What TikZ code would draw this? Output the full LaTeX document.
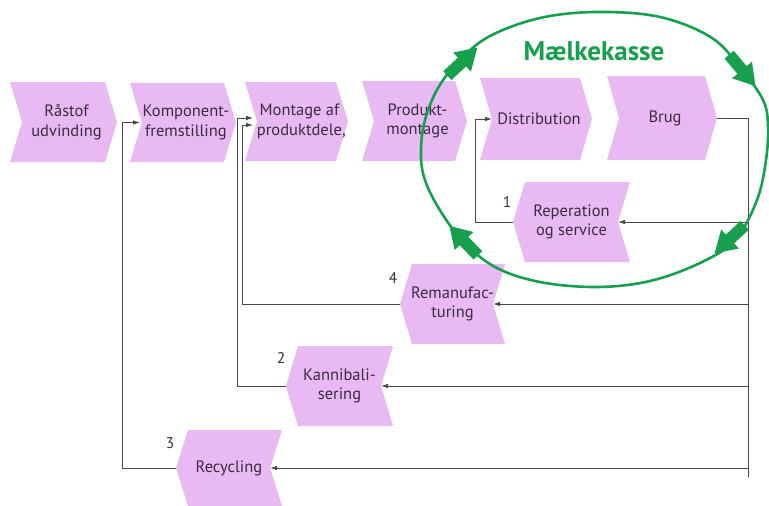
\documentclass[tikz,border=0pt]{standalone}
\usepackage{fontspec}
\setmainfont{PT Sans}
\usetikzlibrary{arrows.meta}
\definecolor{chevfill}{RGB}{233,185,244}
\definecolor{txt}{RGB}{58,44,64}
\definecolor{lin}{RGB}{72,72,72}
\definecolor{grn}{RGB}{22,160,78}
\tikzset{
  lbl/.style={font=\fontsize{16.5}{19.5}\selectfont, text=txt, align=center, inner sep=0pt},
  num/.style={font=\fontsize{15.5}{17}\selectfont, text=txt, inner sep=0pt},
  conn/.style={draw=lin, line width=0.8pt},
  arr/.style={-{Latex[length=7pt,width=4.5pt]}},
  ring/.style={draw=grn, line width=2.6pt},
}
% right-pointing chevron: name, xl, xr, yt, yb, text
\newcommand\rchev[6]{%
  \fill[chevfill] (#2,-#4) -- ({#3-12},-#4) -- (#3,{-(#4+#5)/2}) -- ({#3-12},-#5) -- (#2,-#5) -- ({#2+12},{-(#4+#5)/2}) -- cycle;
  \node[lbl] (#1) at ({(#2+#3)/2+3},{-(#4+#5)/2}) {#6};
  \coordinate (#1-in) at ({#2+12},{-(#4+#5)/2});
  \coordinate (#1-out) at (#3,{-(#4+#5)/2});
}
% left-pointing chevron: name, xl, xr, yt, yb, text
\newcommand\lchev[6]{%
  \fill[chevfill] ({#2+12},-#4) -- (#3,-#4) -- ({#3-12},{-(#4+#5)/2}) -- (#3,-#5) -- ({#2+12},-#5) -- (#2,{-(#4+#5)/2}) -- cycle;
  \node[lbl] (#1) at ({(#2+#3)/2},{-(#4+#5)/2}) {#6};
  \coordinate (#1-in) at ({#3-12},{-(#4+#5)/2});
  \coordinate (#1-out) at (#2,{-(#4+#5)/2});
}
% green block arrow: x, y (pixels, down), angle
\newcommand\garrow[3]{%
  \fill[grn, shift={(#1,-#2)}, rotate=#3] (-20,-6) -- (0,-6) -- (0,-13) -- (21,0) -- (0,13) -- (0,6) -- (-20,6) -- cycle;
}
\begin{document}
\begin{tikzpicture}[x=1pt,y=1pt]
\useasboundingbox (0,0) rectangle (769,-506);
\fill[white] (0,0) rectangle (769,-506);

% chevrons
\rchev{ras}{10}{117}{82}{162}{Råstof\\udvinding}
\rchev{kom}{130}{236}{83}{162}{Komponent-\\fremstilling}
\rchev{mon}{245}{348}{82}{161}{Montage af\\produktdele\rlap{,}}
\rchev{pro}{362}{467}{81}{161}{Produkt-\\montage}
\rchev{dis}{480}{592}{78}{160}{Distribution}
\rchev{bru}{607}{717}{76}{160}{Brug}
\lchev{rep}{513}{630}{182}{262}{Reperation\\og service}
\lchev{rem}{400}{505}{264}{344}{Remanufac-\\turing}
\lchev{kan}{286}{393}{346}{426}{Kannibali-\\sering}
\lchev{rec}{176}{282}{430}{506}{Recycling}

% numbers
\node[num] (n1) at (507,-202) {1};
\node[num] (n4) at (393,-278) {4};
\node[num] (n2) at (281,-358) {2};
\node[num] (n3) at (170,-443) {3};

% trunk on the right
\coordinate (trtop) at (748,-118);
\coordinate (trbot) at (748,-477);
\coordinate (b1) at (748,-222);
\coordinate (b2) at (748,-304);
\coordinate (b3) at (748,-386);
\coordinate (b4) at (748,-468);
\draw[conn] (bru-out) -- (trtop) -- (trbot);
\draw[conn,arr] (b1) -- (rep-in);
\draw[conn,arr] (b2) -- (rem-in);
\draw[conn,arr] (b3) -- (kan-in);
\draw[conn,arr] (b4) -- (rec-in);

% returns on the left
\draw[conn,arr] (rep-out) -- ++(-38,0) |- (dis-in);
\draw[conn,arr] (rem-out) -- ++(-158,0) |- ([xshift=-4pt,yshift=-3.5pt]mon-in);
\draw[conn,arr] (kan-out) -- ++(-49,0) |- ([xshift=-4pt,yshift=3.5pt]mon-in);
\draw[conn,arr] (rec-out) -- ++(-54,0) |- ([xshift=-2pt]kom-in);

% Maelkekasse ring
\draw[ring] plot[smooth cycle, tension=0.6] coordinates {
  (597,-12) (660,-17) (712,-38) (742,-70) (763,-100) (768,-125) (766,-160)
  (757,-200) (735,-240) (700,-263) (650,-281) (597,-287) (540,-282)
  (495,-267) (462,-240) (438,-207) (424,-177) (421,-150) (425,-120)
  (438,-88) (460,-60) (490,-36) (540,-18)};
\garrow{462}{62}{43}
\garrow{742}{70}{-50}
\garrow{730}{239}{-137}
\garrow{464}{241}{134}
\node[font=\bfseries\fontsize{27}{30}\selectfont, text=grn, inner sep=0pt] (mk) at (594,-51) {Mælkekasse};
\end{tikzpicture}
\end{document}
